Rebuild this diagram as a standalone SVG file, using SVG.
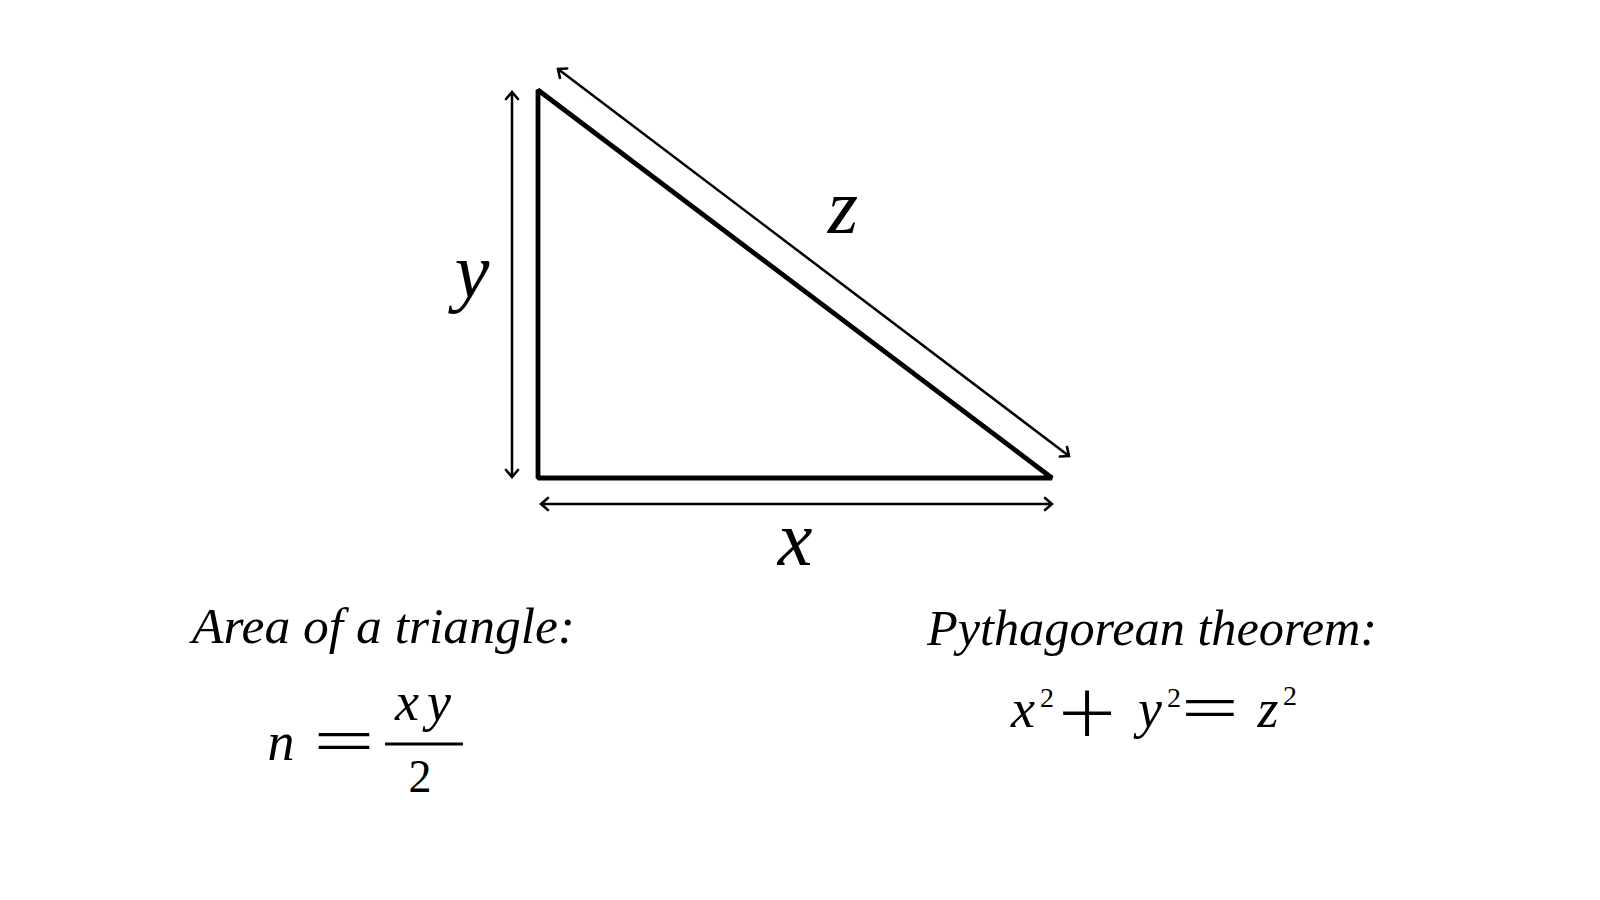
<svg xmlns="http://www.w3.org/2000/svg" width="1600" height="900" viewBox="0 0 1600 900">
<defs>
<style>
.it{font-family:"Liberation Serif","DejaVu Serif",serif;font-style:italic;fill:#000}
.rm{font-family:"Liberation Serif","DejaVu Serif",serif;fill:#000}
.thin{font-family:"Lato","Inter","Liberation Serif",sans-serif;font-weight:300;fill:#000}
.lab{font-size:78px;text-anchor:middle}
.title{font-size:50px}
.m{font-size:54px;text-anchor:middle}
.sup{font-size:28px;text-anchor:middle}
.dim{stroke:#000;stroke-width:2.5;fill:none}
</style>
<marker id="ah" viewBox="-10 -8 12 16" markerWidth="12" markerHeight="16" refX="0" refY="0" orient="auto-start-reverse" markerUnits="userSpaceOnUse">
<path d="M-7,-6 L0,0 L-7,6" fill="none" stroke="#000" stroke-width="2.6" stroke-linejoin="miter" stroke-linecap="round"/>
</marker>
</defs>
<rect width="1600" height="900" fill="#fff"/>
<g id="triangle">
<path d="M538,90 L538,478 L1052,478 Z" fill="none" stroke="#000" stroke-width="4.8" stroke-linejoin="bevel"/>
</g>
<g id="connectors">
<line class="dim" x1="512" y1="92" x2="512" y2="477" marker-start="url(#ah)" marker-end="url(#ah)"/>
<line class="dim" x1="541" y1="504" x2="1052" y2="504" marker-start="url(#ah)" marker-end="url(#ah)"/>
<line class="dim" x1="558" y1="69" x2="1069" y2="456" marker-start="url(#ah)" marker-end="url(#ah)"/>
</g>
<g id="label-y"><text class="it lab" x="472" y="297">y</text></g>
<g id="label-z"><text class="it lab" x="843" y="233">z</text></g>
<g id="label-x"><text class="it lab" x="795" y="565">x</text></g>
<g id="area">
<text class="it title" x="192" y="643" textLength="383" lengthAdjust="spacingAndGlyphs">Area of a triangle:</text>
<text class="it m" x="281" y="760">n</text>
<text class="rm" font-size="64" text-anchor="middle" transform="translate(344,744) scale(1.7,1)" x="0" y="18">=</text>
<text class="it m" x="423" y="720" font-size="58" textLength="56" lengthAdjust="spacing">xy</text>
<line x1="385" y1="744" x2="463" y2="744" stroke="#000" stroke-width="3"/>
<text class="rm" font-size="46" text-anchor="middle" x="420" y="792">2</text>
</g>
<g id="pythagoras">
<text class="it title" x="927" y="645" textLength="450" lengthAdjust="spacingAndGlyphs">Pythagorean theorem:</text>
<text class="it m" x="1023" y="727">x</text>
<text class="rm sup" x="1047" y="707">2</text>
<text class="thin" font-size="60" text-anchor="middle" transform="translate(1087,713) scale(1.7,1.55)" x="0" y="20">+</text>
<text class="it m" x="1150" y="727">y</text>
<text class="rm sup" x="1174" y="707">2</text>
<text class="rm" font-size="64" text-anchor="middle" transform="translate(1210,711) scale(1.6,1)" x="0" y="18">=</text>
<text class="it m" x="1268" y="727">z</text>
<text class="rm sup" x="1290" y="705">2</text>
</g>
</svg>
